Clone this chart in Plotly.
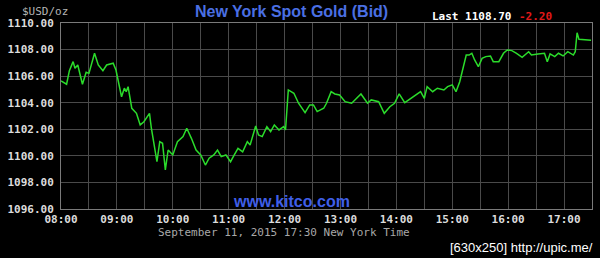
import plotly.graph_objects as go

# ---- data ----
times = ["08:00","08:06","08:09","08:13","08:15","08:18","08:23","08:27","08:30","08:36",
         "08:40","08:45","08:49","08:56","08:59","09:05","09:08","09:10","09:12","09:16",
         "09:21","09:25","09:29","09:35","09:37","09:40","09:43","09:46","09:49","09:52",
         "09:55","10:00","10:05","10:11","10:15","10:20","10:25","10:30","10:35","10:39",
         "10:44","10:48","10:52","10:57","11:02","11:06","11:10","11:15","11:20","11:23",
         "11:29","11:32","11:36","11:41","11:45","11:49","11:54","11:59","12:01","12:04",
         "12:07","12:10","12:15","12:22","12:27","12:31","12:35","12:42","12:45","12:50",
         "12:54","12:59","13:05","13:12","13:22","13:29","13:33","13:41","13:47","13:53",
         "13:58","14:03","14:09","14:16","14:23","14:26","14:30","14:33","14:39","14:44",
         "14:51","14:55","15:00","15:04","15:08","15:12","15:15","15:18","15:21","15:24",
         "15:28","15:32","15:36","15:41","15:44","15:50","15:55","15:59","16:04","16:09",
         "16:15","16:22","16:25","16:32","16:39","16:42","16:45","16:50","16:54","16:59",
         "17:04","17:10","17:12","17:14","17:16","17:29"]
bid = [1105.64,1105.39,1106.41,1107.09,1106.59,1106.84,1105.39,1106.29,1106.21,1107.72,
       1106.84,1106.41,1106.84,1106.97,1106.46,1104.45,1105.09,1104.83,1105.21,1103.58,
       1103.20,1102.33,1102.57,1103.20,1102.08,1100.69,1099.56,1101.07,1100.95,1098.94,
       1100.44,1100.07,1101.07,1101.45,1102.08,1101.32,1100.44,1100.07,1099.31,1099.82,
       1100.07,1100.44,1099.94,1100.07,1099.56,1100.07,1100.57,1100.31,1101.07,1100.82,
       1102.25,1101.57,1101.45,1102.20,1101.82,1102.33,1101.95,1102.20,1101.95,1104.96,
       1104.83,1104.71,1103.96,1103.25,1103.83,1103.83,1103.33,1103.58,1103.96,1104.83,
       1104.66,1104.58,1104.08,1103.96,1104.66,1103.96,1104.21,1104.08,1103.20,1103.70,
       1103.96,1104.66,1104.00,1104.33,1104.66,1104.83,1104.33,1105.21,1104.83,1105.09,
       1104.96,1105.21,1105.34,1104.83,1105.58,1106.71,1107.59,1107.59,1107.72,1107.22,
       1106.71,1107.34,1107.47,1107.52,1107.09,1107.09,1107.72,1107.97,1107.92,1107.72,
       1107.42,1107.84,1107.59,1107.67,1107.72,1107.09,1107.67,1107.47,1107.72,1107.52,
       1107.84,1107.59,1107.84,1109.27,1108.77,1108.70]

day = "2015-09-11"
x_tick_times = ["08:00","08:30","09:00","09:30","10:00","10:30","11:00","11:30","12:00","12:30",
                "13:00","13:30","14:00","14:30","15:00","15:30","16:00","16:30","17:00","17:30"]
x_tick_labels = ["08:00","","09:00","","10:00","","11:00","","12:00","",
                 "13:00","","14:00","","15:00","","16:00","","17:00",""]
y_ticks = [1096, 1098, 1100, 1102, 1104, 1106, 1108, 1110]

title_text = "New York Spot Gold (Bid)"
unit_text = "$USD/oz"
last_text = "Last 1108.70"
change_text = "-2.20"
watermark = "www.kitco.com"
date_text = "September 11, 2015 17:30 New York Time"
credit_text = "[630x250] http://upic.me/"

xs = [f"{day} {t}" for t in times]
mono = "DejaVu Sans Mono"

fig = go.Figure()
fig.add_trace(go.Scatter(x=xs, y=bid, mode="lines",
                         line=dict(color="#2bdc2b", width=1.5), hoverinfo="skip"))

fig.update_layout(
    width=600, height=258,
    margin=dict(l=57, r=7, t=23, b=49),
    paper_bgcolor="black", plot_bgcolor="black",
    showlegend=False,
    xaxis=dict(
        type="date",
        range=[f"{day} 08:00", f"{day} 17:30"],
        tickmode="array",
        tickvals=[f"{day} {t}" for t in x_tick_times],
        ticktext=x_tick_labels,
        showgrid=True, gridcolor="#4a4a4a", gridwidth=1,
        showline=True, linecolor="#7a7a7a", linewidth=1, mirror=True,
        zeroline=False, ticks="", ticklabelstandoff=0,
        tickfont=dict(family=mono, size=11, color="#dcdcdc", weight="bold"),
    ),
    yaxis=dict(
        range=[1096, 1110],
        tickmode="array", tickvals=y_ticks,
        tickformat=".2f",
        showgrid=True, gridcolor="#4a4a4a", gridwidth=1,
        showline=True, linecolor="#7a7a7a", linewidth=1, mirror=True,
        zeroline=False, ticks="", ticklabelstandoff=4,
        tickfont=dict(family=mono, size=11, color="#dcdcdc", weight="bold"),
    ),
)

def ann(text, x, y, xanchor, font):
    fig.add_annotation(text=text, x=x, y=y, xref="paper", yref="paper",
                       xanchor=xanchor, yanchor="middle", showarrow=False, font=font)

ann(title_text, 0.435, 1.062, "center",
    dict(family="Liberation Sans", size=16, color="#4a6fe3", weight="bold"))
ann(unit_text, -0.030, 1.064, "center",
    dict(family=mono, size=11, color="#b4b4b4"))
ann(last_text, 0.694, 1.037, "left",
    dict(family=mono, size=11, color="#ffffff", weight="bold"))
ann(change_text, 0.858, 1.037, "left",
    dict(family=mono, size=11, color="#e01818", weight="bold"))
ann(watermark, 0.435, 0.040, "center",
    dict(family="Liberation Sans", size=16, color="#3f5fe8", weight="bold"))
ann(date_text, 0.420, -0.127, "center",
    dict(family=mono, size=11, color="#a8a8a8"))
ann(credit_text, 1.006, -0.206, "right",
    dict(family="Liberation Sans Narrow, Liberation Sans", size=13, color="#ffffff"))

fig.write_html("out.html")
